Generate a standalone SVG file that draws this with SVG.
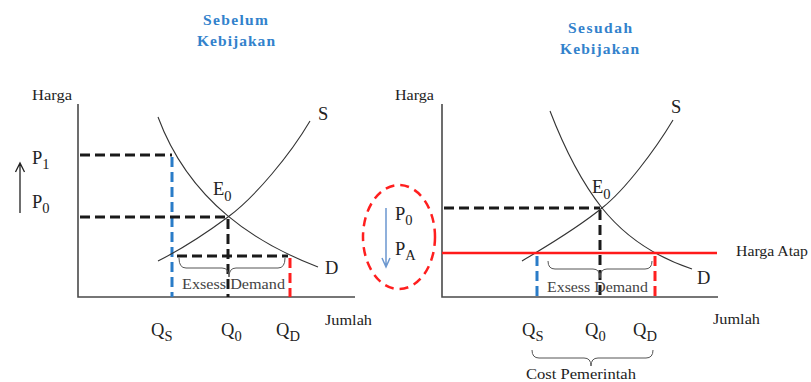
<svg xmlns="http://www.w3.org/2000/svg" width="811" height="382" viewBox="0 0 811 382">
<style>
text{font-family:"Liberation Serif","DejaVu Serif",serif;fill:#222}
.title{font-weight:bold;font-size:15.5px;fill:#3282cc}
.ax{font-size:14px}
.lbl{font-size:18.5px}
.sub{font-size:14.5px}
.ed{font-size:14px;fill:#444}
.axis{stroke:#4a4a4a;stroke-width:1.6;fill:none}
.curve{stroke:#333;stroke-width:1.1;fill:none}
.dk{stroke:#1a1a1a;stroke-width:3;stroke-dasharray:10 5;fill:none}
.db{stroke:#2a7cc8;stroke-width:3;stroke-dasharray:10 5;fill:none}
.dr{stroke:#ff1f1f;stroke-width:3;stroke-dasharray:10 5;fill:none}
.brace{stroke:#555;stroke-width:1;fill:none}
</style>
<!-- Titles -->
<g id="title-left">
<text class="title" x="203" y="25" textLength="65" lengthAdjust="spacing">Sebelum</text>
<text class="title" x="197" y="46" textLength="78" lengthAdjust="spacing">Kebijakan</text>
</g>
<g id="title-right">
<text class="title" x="568" y="33" textLength="64" lengthAdjust="spacing">Sesudah</text>
<text class="title" x="560" y="54" textLength="79" lengthAdjust="spacing">Kebijakan</text>
</g>
<!-- Left chart -->
<g id="left-axes">
<path class="axis" d="M78,104 V297 H355"/>
<text class="ax" x="32" y="100" textLength="40" lengthAdjust="spacingAndGlyphs">Harga</text>
<text class="ax" x="325" y="325" textLength="47" lengthAdjust="spacingAndGlyphs">Jumlah</text>
</g>
<g id="left-arrow">
<path d="M20,213 V164 M15.5,172 L20,163 L24.5,172" stroke="#222" stroke-width="1.3" fill="none"/>
<text class="lbl" x="32" y="164">P<tspan class="sub" dy="5">1</tspan></text>
<text class="lbl" x="32" y="208">P<tspan class="sub" dy="5">0</tspan></text>
</g>
<g id="left-connectors">
<path class="dk" d="M80,155 H172"/>
<path class="db" d="M172,157 V297"/>
<path class="dk" d="M80,217 H228"/>
<path class="dk" d="M228,219 V297"/>
<path class="dk" d="M177,256 H288"/>
<path class="dr" d="M290,258 V297"/>
</g>
<g id="left-curves">
<path class="curve" d="M158,117 C190,203 258,244 318,267"/>
<path class="curve" d="M158,261 C180,250 205,234 228,217 C255,197 290,155 310,121"/>
<text class="lbl" x="318" y="120">S</text>
<text class="lbl" x="325" y="274">D</text>
<text class="lbl" x="213" y="195">E<tspan class="sub" dy="6">0</tspan></text>
</g>
<g id="left-excess">
<path class="brace" d="M179,258 Q179,268 186,268 H222 Q229,268 229,277 Q229,268 236,268 H278 Q285,268 285,258"/>
<text class="ed" x="182" y="289" textLength="103" lengthAdjust="spacingAndGlyphs">Exsess Demand</text>
</g>
<g id="left-q">
<text class="lbl" x="151" y="336">Q<tspan class="sub" dy="5">S</tspan></text>
<text class="lbl" x="221" y="336">Q<tspan class="sub" dy="5">0</tspan></text>
<text class="lbl" x="276" y="336">Q<tspan class="sub" dy="5">D</tspan></text>
</g>
<!-- Ellipse -->
<g id="price-change">
<ellipse cx="399" cy="237" rx="36" ry="52" stroke="#ff1f1f" stroke-width="2.5" stroke-dasharray="9 6" fill="none"/>
<path d="M386,208 V266 M382,258 L386,267 L390,258" stroke="#6b97cf" stroke-width="1.5" fill="none"/>
<text class="lbl" x="395" y="220">P<tspan class="sub" dy="5">0</tspan></text>
<text class="lbl" x="395" y="255">P<tspan class="sub" dy="5">A</tspan></text>
</g>
<!-- Right chart -->
<g id="right-axes">
<path class="axis" d="M442,104 V297 H718"/>
<text class="ax" x="395" y="100" textLength="39" lengthAdjust="spacingAndGlyphs">Harga</text>
<text class="ax" x="713" y="324" textLength="47" lengthAdjust="spacingAndGlyphs">Jumlah</text>
</g>
<g id="right-connectors">
<path class="dk" d="M444,208 H600"/>
<path class="dk" d="M600,210 V297"/>
<path class="db" d="M537,256 V297"/>
<path class="dr" d="M655,256 V297"/>
</g>
<g id="right-curves">
<path class="curve" d="M550,111 C565,150 580,180 602,208 C622,233 650,255 692,269"/>
<path class="curve" d="M522,261 C545,247 575,230 602,208 C625,190 655,150 673,120"/>
<text class="lbl" x="671" y="113">S</text>
<text class="lbl" x="697" y="284">D</text>
<text class="lbl" x="592" y="193">E<tspan class="sub" dy="6">0</tspan></text>
</g>
<g id="ceiling">
<path d="M442,253 H717" stroke="#ff1a1a" stroke-width="2.5" fill="none"/>
<text class="ax" x="736" y="256" textLength="72" lengthAdjust="spacingAndGlyphs">Harga Atap</text>
</g>
<g id="right-excess">
<path class="brace" d="M548,261 Q548,269 555,269 H593 Q600,269 600,278 Q600,269 607,269 H645 Q652,269 652,261"/>
<text class="ed" x="547" y="292" textLength="101" lengthAdjust="spacingAndGlyphs">Exsess Demand</text>
</g>
<g id="right-q">
<text class="lbl" x="522" y="336">Q<tspan class="sub" dy="5">S</tspan></text>
<text class="lbl" x="585" y="336">Q<tspan class="sub" dy="5">0</tspan></text>
<text class="lbl" x="633" y="336">Q<tspan class="sub" dy="5">D</tspan></text>
</g>
<g id="cost">
<path class="brace" d="M532,350 Q532,358 539,358 H584 Q591,358 591,366 Q591,358 598,358 H646 Q653,358 653,350"/>
<text class="ed" x="526" y="379" textLength="110" lengthAdjust="spacingAndGlyphs" style="fill:#222">Cost Pemerintah</text>
</g>
</svg>
